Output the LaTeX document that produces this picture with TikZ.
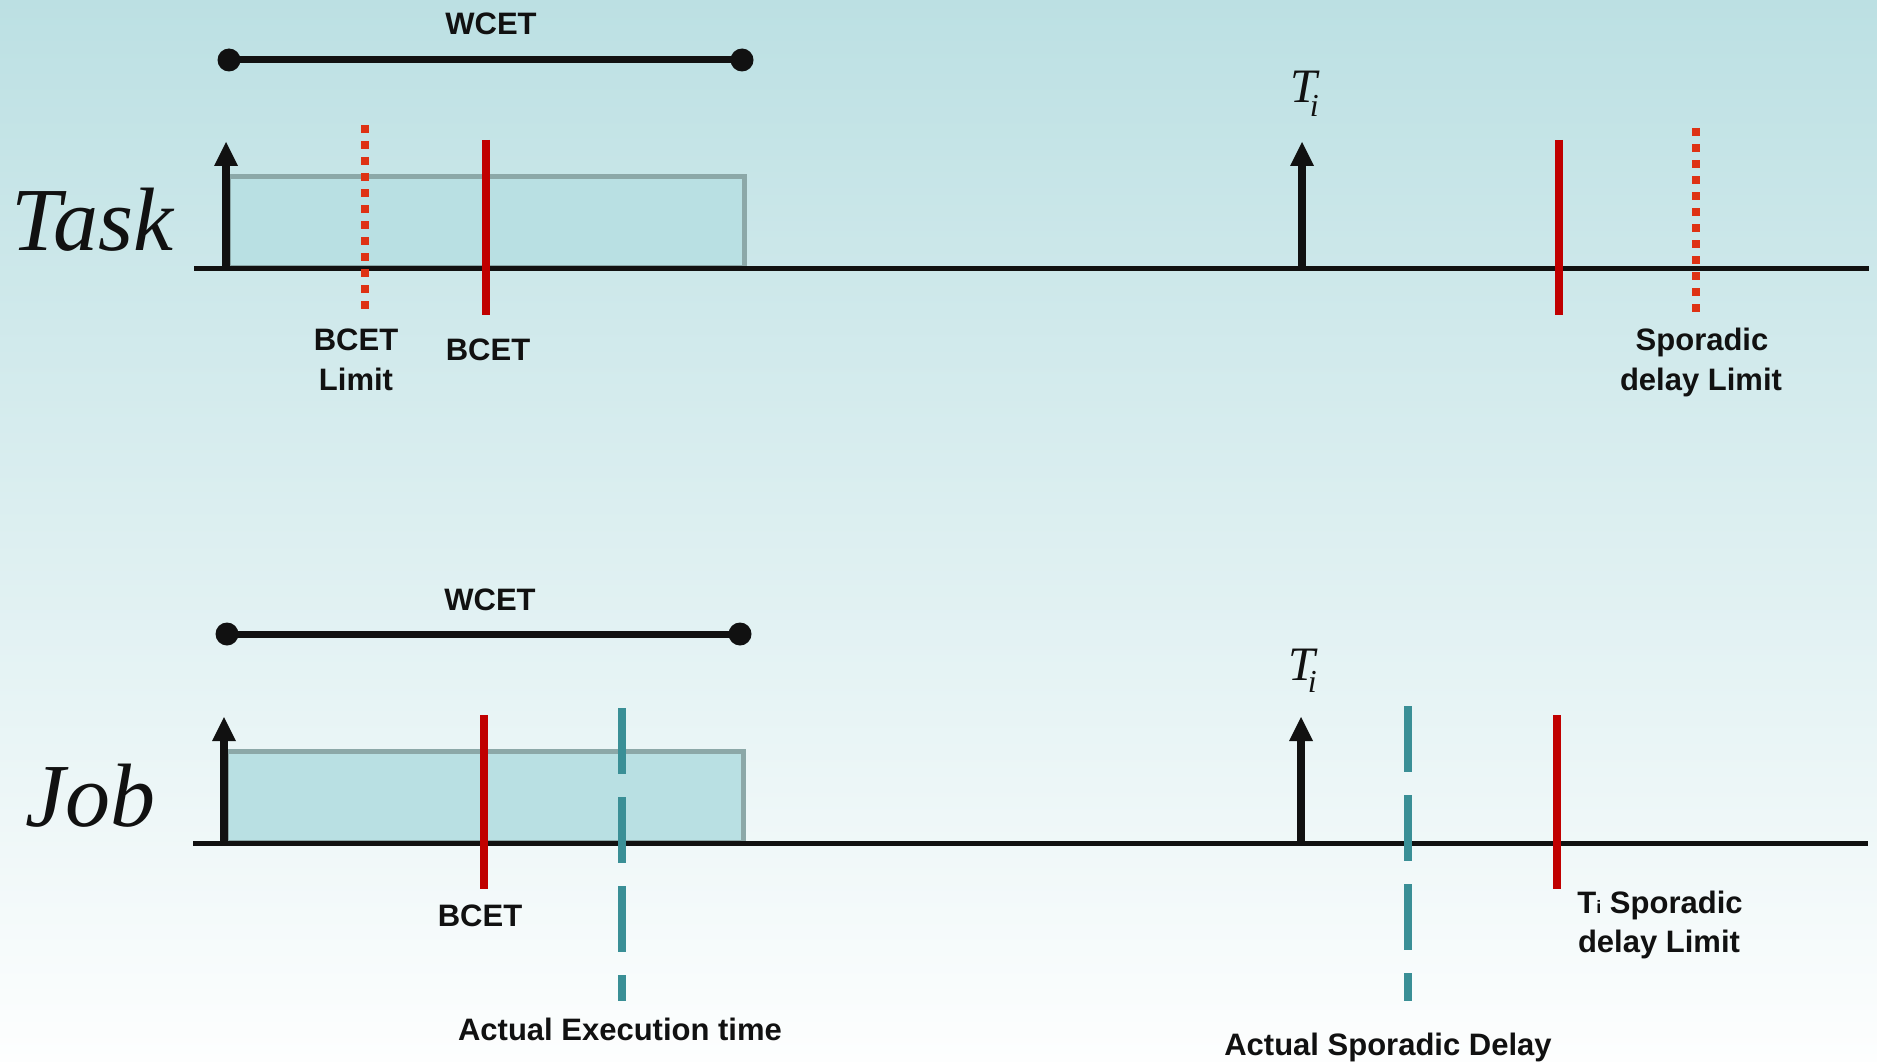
\documentclass[tikz,border=0pt]{standalone}
\usepackage{fontspec}
\newfontfamily\labfont{Liberation Sans}
\newfontfamily\serfont{Liberation Serif}
\usetikzlibrary{arrows.meta}
\definecolor{bgtop}{RGB}{188,224,227}
\definecolor{bgbot}{RGB}{253,254,254}
\definecolor{boxfill}{RGB}{185,224,227}
\definecolor{boxline}{RGB}{140,168,168}
\definecolor{redsolid}{RGB}{192,0,0}
\definecolor{reddot}{RGB}{222,50,20}
\definecolor{tealdash}{RGB}{58,143,150}
\definecolor{ink}{RGB}{17,17,17}
\begin{document}
\begin{tikzpicture}[x=1pt,y=-1pt,
  lab/.style={font={\labfont\bfseries\fontsize{31}{38}\selectfont}, inner sep=0pt, anchor=base, text=ink},
  big/.style={font={\serfont\itshape\fontsize{90}{90}\selectfont}, inner sep=0pt, anchor=base west, text=ink},
  period/.style={font={\serfont\itshape\fontsize{48}{48}\selectfont}, inner sep=0pt, anchor=base west, text=ink},
  axisline/.style={draw=ink, line width=5pt},
  release/.style={draw=ink, line width=8pt, -{Triangle[width=24pt,length=24pt,line width=0pt]}},
  span/.style={draw=ink, line width=7pt},
  spandot/.style={fill=ink, circle, inner sep=0pt, minimum size=23pt},
  exec/.style={fill=boxfill, draw=boxline, line width=4.5pt, inner sep=0pt, anchor=north west},
  bcetline/.style={draw=redsolid, line width=7.5pt},
  limitline/.style={draw=reddot, line width=7.5pt, dash pattern=on 8pt off 8pt},
  actualline/.style={draw=tealdash, line width=8pt, dash pattern=on 66pt off 23pt}]

\shade[top color=bgtop, bottom color=bgbot] (0,0) rectangle (1877,1062);
\useasboundingbox (0,0) rectangle (1877,1062);

% ---------------- Task ----------------
\node[lab] (wcetA) at (491,35) {WCET};
\node[spandot] (wA1) at (229,60) {};
\node[spandot] (wA2) at (742,60) {};
\draw[span] (wA1.center) -- (wA2.center);

\node[exec, minimum width=516pt, minimum height=91pt] (boxA) at (226,174) {};

\coordinate (axA0) at (194,268);
\coordinate (axA1) at (1869,268);
\draw[axisline] (axA0) -- (axA1);

\coordinate (rA0) at (226,268);
\coordinate (rA0t) at (226,142);
\draw[release] (rA0) -- (rA0t);
\coordinate (rA1) at (1302,268);
\coordinate (rA1t) at (1302,142);
\draw[release] (rA1) -- (rA1t);

\coordinate (limA0) at (365,125);
\coordinate (limA0b) at (365,314);
\draw[limitline] (limA0) -- (limA0b);
\coordinate (bcA0) at (486,140);
\coordinate (bcA0b) at (486,315);
\draw[bcetline] (bcA0) -- (bcA0b);
\coordinate (bcA1) at (1559,140);
\coordinate (bcA1b) at (1559,315);
\draw[bcetline] (bcA1) -- (bcA1b);
\coordinate (limA1) at (1696,128);
\coordinate (limA1b) at (1696,315);
\draw[limitline] (limA1) -- (limA1b);

\node[big] (task) at (11,250) {Task};
\node[period] (tiA) at (1290,103) {T\kern-7pt\raisebox{-14pt}{\fontsize{32}{32}\selectfont i}};
\node[lab] (lblLimA1) at (356,350) {BCET};
\node[lab] (lblLimA2) at (356,390) {Limit};
\node[lab] (lblBcA) at (488,360) {BCET};
\node[lab] (lblSpA1) at (1702,350) {Sporadic};
\node[lab] (lblSpA2) at (1701,390) {delay Limit};

% ---------------- Job ----------------
\node[lab] (wcetB) at (490,610) {WCET};
\node[spandot] (wB1) at (227,634) {};
\node[spandot] (wB2) at (740,634) {};
\draw[span] (wB1.center) -- (wB2.center);

\node[exec, minimum width=517pt, minimum height=91pt] (boxB) at (224,749) {};

\coordinate (axB0) at (193,843);
\coordinate (axB1) at (1868,843);
\draw[axisline] (axB0) -- (axB1);

\coordinate (rB0) at (224,843);
\coordinate (rB0t) at (224,717);
\draw[release] (rB0) -- (rB0t);
\coordinate (rB1) at (1301,843);
\coordinate (rB1t) at (1301,717);
\draw[release] (rB1) -- (rB1t);

\coordinate (bcB0) at (484,715);
\coordinate (bcB0b) at (484,889);
\draw[bcetline] (bcB0) -- (bcB0b);
\coordinate (acB0) at (622,708);
\coordinate (acB0b) at (622,1001);
\draw[actualline] (acB0) -- (acB0b);
\coordinate (acB1) at (1408,706);
\coordinate (acB1b) at (1408,1001);
\draw[actualline] (acB1) -- (acB1b);
\coordinate (bcB1) at (1557,715);
\coordinate (bcB1b) at (1557,889);
\draw[bcetline] (bcB1) -- (bcB1b);

\node[big] (job) at (25,826) {Job};
\node[period] (tiB) at (1288,680) {T\kern-7pt\raisebox{-12pt}{\fontsize{32}{32}\selectfont i}};
\node[lab] (lblBcB) at (480,926) {BCET};
\node[lab] (lblAcB0) at (620,1040) {Actual Execution time};
\node[lab] (lblSpB1) at (1660,913) {T{\fontsize{18}{18}\selectfont i} Sporadic};
\node[lab] (lblSpB2) at (1659,952) {delay Limit};
\node[lab] (lblAcB1) at (1388,1055) {Actual Sporadic Delay};
\end{tikzpicture}
\end{document}
